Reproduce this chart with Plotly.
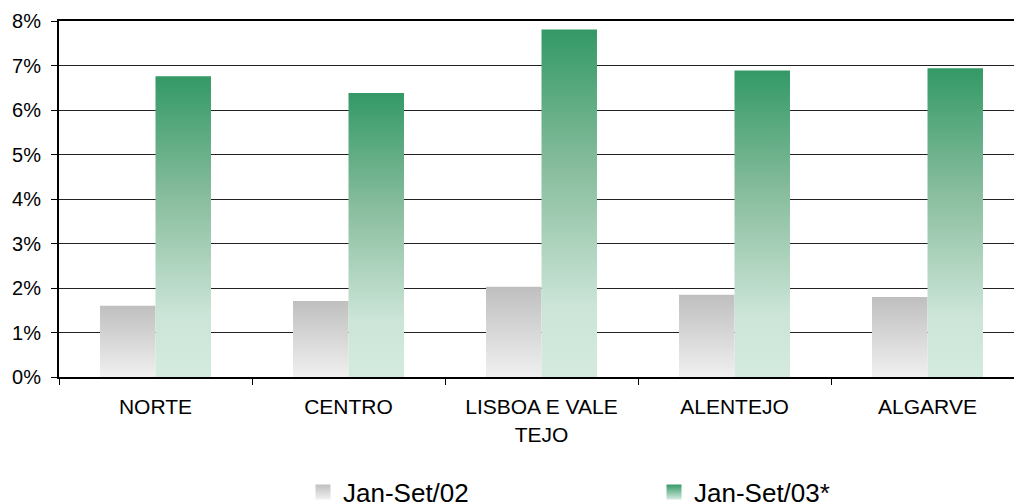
import plotly.graph_objects as go

categories = ["NORTE", "CENTRO", "LISBOA E VALE<br>TEJO", "ALENTEJO", "ALGARVE"]
series_names = ["Jan-Set/02", "Jan-Set/03*"]
values_02 = [1.60, 1.71, 2.03, 1.85, 1.80]
values_03 = [6.76, 6.38, 7.81, 6.89, 6.94]
y_ticks = [0, 1, 2, 3, 4, 5, 6, 7, 8]

gray_scale = [[0, "#f0f0f0"], [1, "#bfbfbf"]]
green_scale = [[0, "#d4eadf"], [0.2, "#cce5d8"], [0.6, "#88bd9d"], [1, "#339966"]]

BAR_W = 0.2875
FONT = "Liberation Sans, Arial, sans-serif"

fig = go.Figure()

def add_bars(vals, offset, scale, group):
    for i, v in enumerate(vals):
        x0 = i + offset - BAR_W / 2
        x1 = i + offset + BAR_W / 2
        fig.add_trace(go.Scatter(
            x=[x0, x1, x1, x0, x0], y=[0, 0, v, v, 0],
            mode="lines", line=dict(width=0), fill="toself",
            fillgradient=dict(type="vertical", colorscale=scale, start=0, stop=v),
            showlegend=False, legendgroup=group, hoverinfo="skip",
        ))

add_bars(values_02, -BAR_W / 2, gray_scale, "a")
add_bars(values_03, BAR_W / 2, green_scale, "b")

# legend entries
for name, scale, group in [(series_names[0], gray_scale, "a"), (series_names[1], green_scale, "b")]:
    fig.add_trace(go.Scatter(
        x=[None], y=[None], mode="markers", name=name, legendgroup=group,
        marker=dict(symbol="square", size=15, color=scale[-1][1],
                    gradient=dict(type="vertical", color=scale[0][1])),
    ))

fig.update_layout(
    width=1014, height=504,
    margin=dict(l=59, r=0, t=21, b=127, autoexpand=False),
    paper_bgcolor="white", plot_bgcolor="white",
    font=dict(family=FONT, size=20, color="black"),
    showlegend=True,
    legend=dict(orientation="h", xref="container", yref="container",
                x=303 / 1014, y=1 - 492 / 504, xanchor="left", yanchor="middle",
                font=dict(size=26), entrywidth=306, entrywidthmode="pixels",
                itemwidth=30, bgcolor="rgba(0,0,0,0)"),
    xaxis=dict(range=[-0.5, -0.5 + 955 / 193], tickmode="array",
               tickvals=list(range(len(categories))), ticktext=categories,
               ticks="", showgrid=False, zeroline=False, tickfont=dict(size=21),
               ticklabelstandoff=10,
               showline=True, linecolor="black", linewidth=2, mirror=True,
               minor=dict(tick0=0.5, dtick=1, ticks="outside", ticklen=6,
                          tickcolor="black", tickwidth=1, showgrid=False),
               fixedrange=True),
    yaxis=dict(range=[0, 8], tickmode="array", tickvals=y_ticks,
               ticktext=[f"{t}%" for t in y_ticks],
               ticks="outside", ticklen=6, tickcolor="black", ticklabelstandoff=6,
               showgrid=True, gridcolor="#222222", gridwidth=1,
               zeroline=False, showline=True, linecolor="black", linewidth=2,
               fixedrange=True),
)

fig.write_html("out.html", config={"displayModeBar": False},
               post_script="document.body.style.margin='0';document.body.style.overflow='hidden';")
